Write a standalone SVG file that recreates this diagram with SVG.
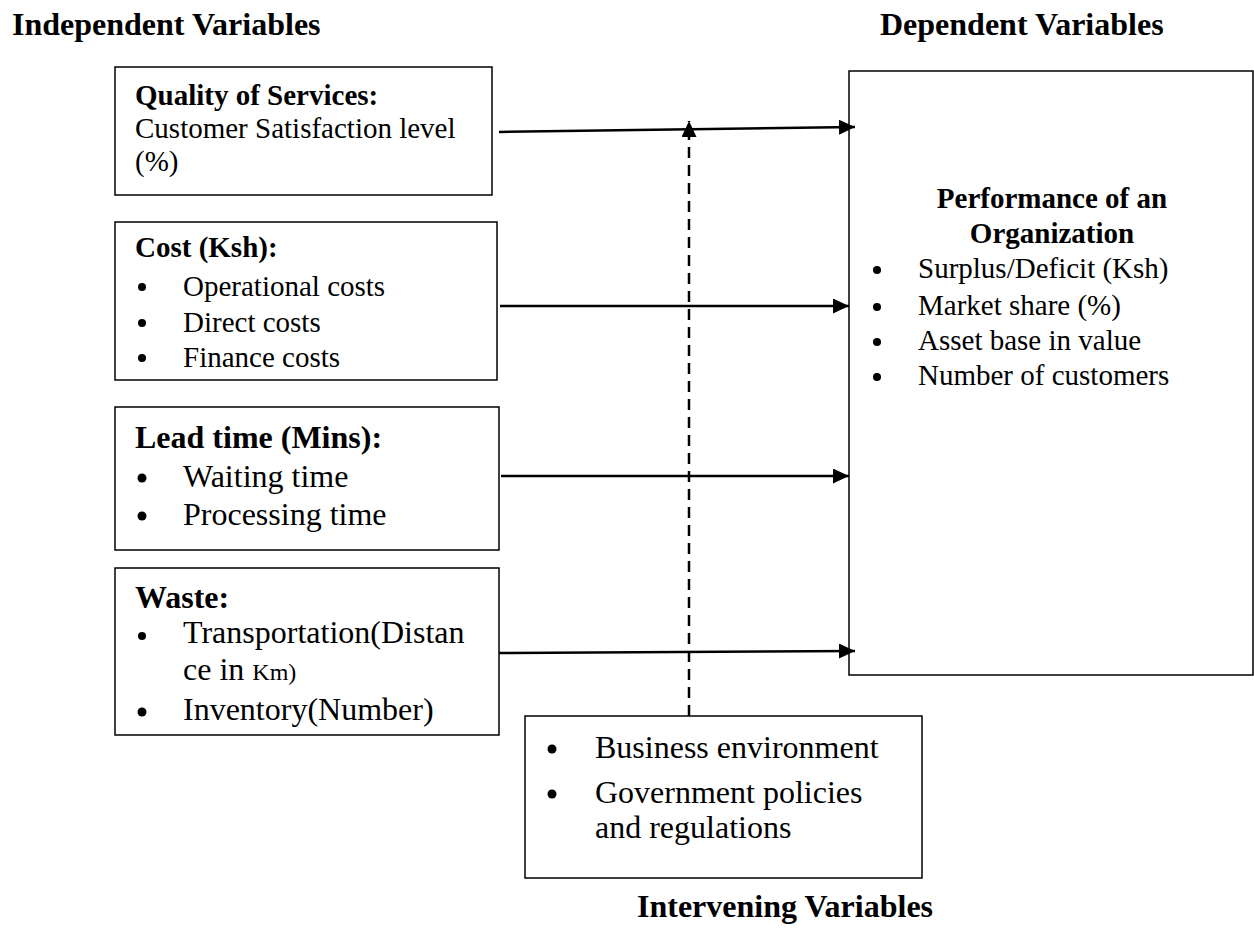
<svg xmlns="http://www.w3.org/2000/svg" width="1254" height="940" viewBox="0 0 1254 940">
<defs>
<marker id="ah" markerUnits="userSpaceOnUse" markerWidth="18" markerHeight="16" refX="16" refY="7.5" orient="auto">
<path d="M0,0 L16,7.5 L0,15 z" fill="#000"/>
</marker>
<style>
text{font-family:"Liberation Serif","Times New Roman",serif;fill:#000}
.h{font-size:32px;font-weight:bold}
.b29{font-size:29px;font-weight:bold}
.b32{font-size:32px;font-weight:bold}
.t29{font-size:29px}
.t32{font-size:32px}
.box{fill:#fff;stroke:#000;stroke-width:1.5}
.arr{stroke:#000;stroke-width:2.5;fill:none;marker-end:url(#ah)}
.dash{stroke:#000;stroke-width:2.5;fill:none;stroke-dasharray:11 7;marker-end:url(#ah)}
.dot{fill:#000}
</style>
</defs>
<rect width="1254" height="940" fill="#fff"/>

<g id="headings">
<text class="h" x="12" y="35">Independent Variables</text>
<text class="h" x="880" y="35">Dependent Variables</text>
<text class="h" x="637" y="917">Intervening Variables</text>
</g>

<g id="quality">
<rect class="box" x="115" y="67" width="377" height="128"/>
<text class="b29" x="135" y="105">Quality of Services:</text>
<text class="t29" x="135" y="138">Customer Satisfaction level</text>
<text class="t29" x="135" y="171">(%)</text>
</g>

<g id="cost">
<rect class="box" x="115" y="222" width="382" height="158"/>
<text class="b29" x="135" y="257">Cost (Ksh):</text>
<circle class="dot" cx="142" cy="287" r="4"/>
<text class="t29" x="183" y="296">Operational costs</text>
<circle class="dot" cx="142" cy="323" r="4"/>
<text class="t29" x="183" y="332">Direct costs</text>
<circle class="dot" cx="142" cy="358" r="4"/>
<text class="t29" x="183" y="367">Finance costs</text>
</g>

<g id="leadtime">
<rect class="box" x="115" y="407" width="384" height="143"/>
<text class="b32" x="135" y="448">Lead time (Mins):</text>
<circle class="dot" cx="142" cy="478" r="4.5"/>
<text class="t32" x="183" y="487">Waiting time</text>
<circle class="dot" cx="142" cy="516" r="4.5"/>
<text class="t32" x="183" y="525">Processing time</text>
</g>

<g id="waste">
<rect class="box" x="115" y="568" width="384" height="167"/>
<text class="b32" x="135" y="608">Waste:</text>
<circle class="dot" cx="142" cy="636" r="4"/>
<text class="t32" x="183" y="643">Transportation(Distan</text>
<text class="t32" x="183" y="680">ce in <tspan style="font-size:24px">Km)</tspan></text>
<circle class="dot" cx="142" cy="712" r="4.5"/>
<text class="t32" x="183" y="720">Inventory(Number)</text>
</g>

<g id="performance">
<rect class="box" x="849" y="71" width="404" height="604"/>
<text class="b29" x="1052" y="208" text-anchor="middle">Performance of an</text>
<text class="b29" x="1052" y="243" text-anchor="middle">Organization</text>
<circle class="dot" cx="877" cy="270" r="4"/>
<text class="t29" x="918" y="278">Surplus/Deficit (Ksh)</text>
<circle class="dot" cx="877" cy="307" r="4"/>
<text class="t29" x="918" y="315">Market share (%)</text>
<circle class="dot" cx="877" cy="342" r="4"/>
<text class="t29" x="918" y="350">Asset base in value</text>
<circle class="dot" cx="877" cy="377" r="4"/>
<text class="t29" x="918" y="385">Number of customers</text>
</g>

<g id="intervening">
<rect class="box" x="525" y="716" width="397" height="162"/>
<circle class="dot" cx="552" cy="749" r="4.5"/>
<text class="t32" x="595" y="758">Business environment</text>
<circle class="dot" cx="552" cy="794" r="4.5"/>
<text class="t32" x="595" y="803">Government policies</text>
<text class="t32" x="595" y="838">and regulations</text>
</g>

<g id="connectors">
<line class="dash" x1="689" y1="716" x2="689" y2="121"/>
<line class="arr" x1="499" y1="132" x2="855" y2="127"/>
<line class="arr" x1="500" y1="306" x2="849" y2="306"/>
<line class="arr" x1="501" y1="476" x2="849" y2="476"/>
<line class="arr" x1="499" y1="653" x2="855" y2="651"/>
</g>
</svg>
